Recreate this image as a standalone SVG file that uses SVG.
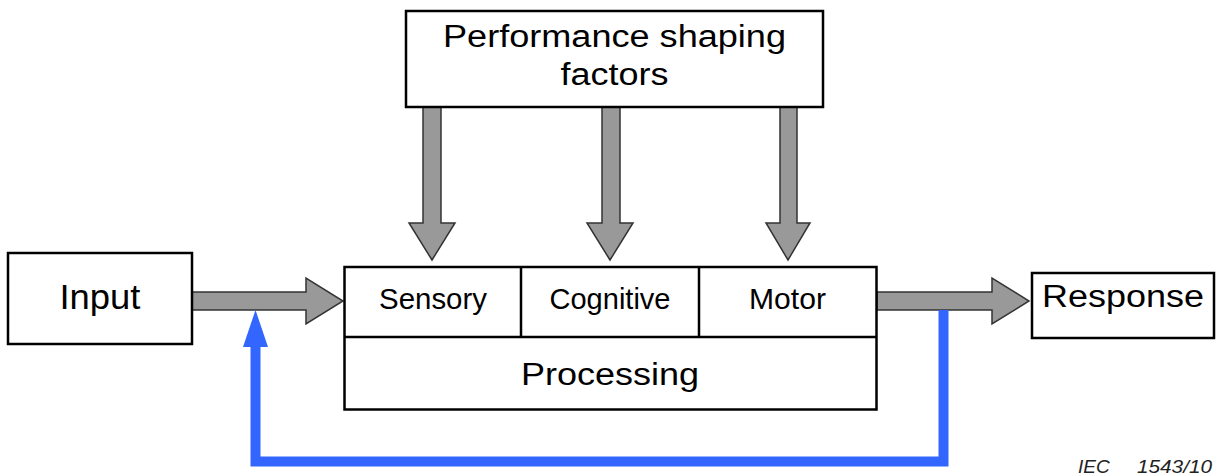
<svg xmlns="http://www.w3.org/2000/svg" width="1218" height="476" viewBox="0 0 1218 476">
<style>
.box{fill:#fff;stroke:#000;stroke-width:2.5}
.ln{fill:none;stroke:#000;stroke-width:2.5}
.arr{fill:#999;stroke:#333;stroke-width:1.5;stroke-linejoin:miter}
.big{font-family:"Liberation Sans",Arial,sans-serif;font-size:31px;fill:#000;text-anchor:middle}
.sm{font-family:"Liberation Sans",Arial,sans-serif;font-size:29px;fill:#000;text-anchor:middle}
.iec{font-family:"Liberation Sans",Arial,sans-serif;font-size:19px;font-style:italic;fill:#222}
</style>
<rect width="1218" height="476" fill="#fff"/>
<g id="connectors">
  <polygon class="arr" points="423,107 441,107 441,223 455,223 432,260 409,223 423,223"/>
  <polygon class="arr" points="602,107 620,107 620,223 633,223 610,260 587,223 602,223"/>
  <polygon class="arr" points="780,107 797,107 797,223 810,223 788,260 766,223 780,223"/>
  <polygon class="arr" points="192,292 306,292 306,278 343,301 306,324 306,310 192,310"/>
  <polygon class="arr" points="877,292 992,292 992,278 1029,301 992,324 992,310 877,310"/>
  <path d="M943.5,310 V461.5 H255.5 V345" fill="none" stroke="#3366ff" stroke-width="10"/>
  <polygon points="243,347 268,347 255.5,310" fill="#3366ff"/>
</g>
<g id="psf">
  <rect class="box" x="406" y="11" width="417" height="96"/>
  <text class="big" x="614.5" y="47" textLength="343" lengthAdjust="spacingAndGlyphs">Performance shaping</text>
  <text class="big" x="614.5" y="85" textLength="108" lengthAdjust="spacingAndGlyphs">factors</text>
</g>
<g id="input">
  <rect class="box" x="8" y="253" width="184" height="91"/>
  <text class="big" x="100" y="309" style="font-size:35px" textLength="81" lengthAdjust="spacingAndGlyphs">Input</text>
</g>
<g id="processing">
  <rect class="box" x="344.5" y="267" width="532" height="142.5"/>
  <line class="ln" x1="344.5" y1="337" x2="876.5" y2="337"/>
  <line class="ln" x1="521" y1="267" x2="521" y2="337"/>
  <line class="ln" x1="699" y1="267" x2="699" y2="337"/>
  <text class="big" x="610" y="385" textLength="178" lengthAdjust="spacingAndGlyphs">Processing</text>
</g>
<g id="sensory">
  <text class="sm" x="433" y="309" textLength="108" lengthAdjust="spacingAndGlyphs">Sensory</text>
</g>
<g id="cognitive">
  <text class="sm" x="610" y="309" textLength="121" lengthAdjust="spacingAndGlyphs">Cognitive</text>
</g>
<g id="motor">
  <text class="sm" x="787.5" y="309" textLength="77" lengthAdjust="spacingAndGlyphs">Motor</text>
</g>
<g id="response">
  <rect class="box" x="1032" y="273" width="182" height="65"/>
  <text class="big" x="1123" y="307" textLength="162" lengthAdjust="spacingAndGlyphs">Response</text>
</g>
<g id="label">
  <text class="iec" x="1078" y="473">IEC</text>
  <text class="iec" x="1137" y="473" textLength="75" lengthAdjust="spacingAndGlyphs">1543/10</text>
</g>
</svg>
